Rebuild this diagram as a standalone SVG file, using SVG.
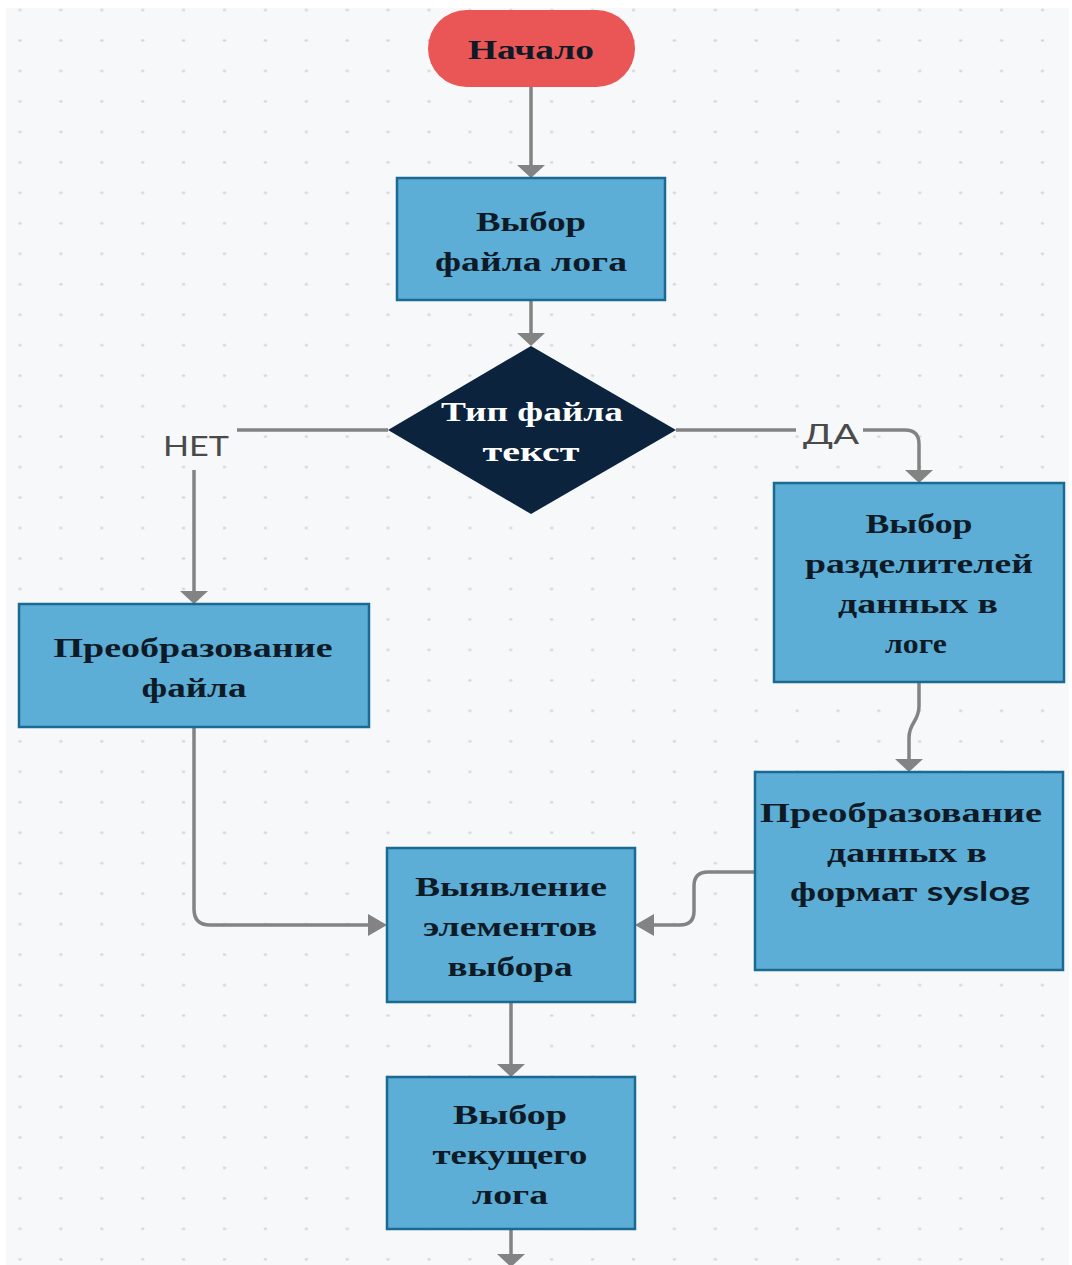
<svg xmlns="http://www.w3.org/2000/svg" width="1072" height="1265" viewBox="0 0 1072 1265">
  <style>
    .step { fill: #5caed6; stroke: #1b6a93; stroke-width: 2.5; }
    .start { fill: #ea5656; }
    .decision { fill: #0b233d; }
    .lbl { font-family: "Liberation Serif", "Times New Roman", serif; font-weight: bold; font-size: 27px; fill: #0e1a26; text-anchor: middle; }
    .lbl-light { fill: #ffffff; }
    .sans { font-family: Lato, "Liberation Sans", sans-serif; font-weight: bold; }
    .branch { font-family: Lato, "Liberation Sans", sans-serif; font-size: 27px; fill: #4a4a4a; text-anchor: middle; }
    .wire { fill: none; stroke: #838383; stroke-width: 3.5; }
  </style>
  <defs>
    <pattern id="grid" patternUnits="userSpaceOnUse" x="-0.45" y="-5.2" width="40.9" height="30.47">
      <ellipse cx="20.45" cy="15.235" rx="1.8" ry="1.3" fill="#d4d7dc"/>
    </pattern>
    <marker id="arrow-v" markerUnits="userSpaceOnUse" viewBox="0 -14 13 28" markerWidth="13" markerHeight="28" refX="0" refY="0" orient="auto">
      <path d="M0,-14 L13,0 L0,14 z" fill="#838383"/>
    </marker>
    <marker id="arrow-h" markerUnits="userSpaceOnUse" viewBox="0 -11 19 22" markerWidth="19" markerHeight="22" refX="0" refY="0" orient="auto">
      <path d="M0,-11 L19,0 L0,11 z" fill="#838383"/>
    </marker>
  </defs>

  <!-- canvas -->
  <rect x="0" y="0" width="1072" height="1265" fill="#ffffff"/>
  <rect x="6" y="8" width="1063" height="1257" fill="#f7f8fa"/>
  <rect x="6" y="8" width="1063" height="1257" fill="url(#grid)"/>

  <!-- connectors -->
  <g id="connectors">
    <path class="wire" d="M531,87 V165" marker-end="url(#arrow-v)"/>
    <path class="wire" d="M531,300 V333" marker-end="url(#arrow-v)"/>
    <path class="wire" d="M388,430 H237"/>
    <path class="wire" d="M194,470 V591" marker-end="url(#arrow-v)"/>
    <path class="wire" d="M676,430 H796"/>
    <path class="wire" d="M863,430 H905 Q919,430 919,444 V470" marker-end="url(#arrow-v)"/>
    <path class="wire" d="M919,682 V706 C919,722 909,722 909,738 V759" marker-end="url(#arrow-v)"/>
    <path class="wire" d="M755,872 H708 Q694,872 694,886 V911 Q694,925 680,925 H654" marker-end="url(#arrow-h)"/>
    <path class="wire" d="M194,727 V909 Q194,925 210,925 H368" marker-end="url(#arrow-h)"/>
    <path class="wire" d="M511,1002 V1064" marker-end="url(#arrow-v)"/>
    <path class="wire" d="M511,1229 V1254" marker-end="url(#arrow-v)"/>
    <text class="branch" x="196" y="456" textLength="66" lengthAdjust="spacingAndGlyphs">НЕТ</text>
    <text class="branch" x="831" y="444" textLength="56" lengthAdjust="spacingAndGlyphs">ДА</text>
  </g>

  <g id="node-start">
    <rect class="start" x="428" y="10" width="207" height="77" rx="38.5"/>
    <text class="lbl" x="531" y="59" textLength="126" lengthAdjust="spacingAndGlyphs">Начало</text>
  </g>

  <g id="node-select-file">
    <rect class="step" x="397" y="178" width="268" height="122"/>
    <text class="lbl" x="531" y="231" textLength="110" lengthAdjust="spacingAndGlyphs">Выбор</text>
    <text class="lbl" x="531" y="271" textLength="192" lengthAdjust="spacingAndGlyphs">файла лога</text>
  </g>

  <g id="node-file-type">
    <polygon class="decision" points="531,346 676,430 531,514 388,430"/>
    <text class="lbl lbl-light" x="532" y="421" textLength="182" lengthAdjust="spacingAndGlyphs">Тип файла</text>
    <text class="lbl lbl-light" x="531" y="461" textLength="97" lengthAdjust="spacingAndGlyphs">текст</text>
  </g>

  <g id="node-convert-file">
    <rect class="step" x="19" y="604" width="350" height="123"/>
    <text class="lbl" x="193" y="657" textLength="279" lengthAdjust="spacingAndGlyphs">Преобразование</text>
    <text class="lbl" x="194" y="697" textLength="105" lengthAdjust="spacingAndGlyphs">файла</text>
  </g>

  <g id="node-separators">
    <rect class="step" x="774" y="483" width="290" height="199"/>
    <text class="lbl" x="919" y="533" textLength="107" lengthAdjust="spacingAndGlyphs">Выбор</text>
    <text class="lbl" x="919" y="573" textLength="228" lengthAdjust="spacingAndGlyphs">разделителей</text>
    <text class="lbl" x="918" y="613" textLength="160" lengthAdjust="spacingAndGlyphs">данных в</text>
    <text class="lbl" x="916" y="653" textLength="62" lengthAdjust="spacingAndGlyphs">логе</text>
  </g>

  <g id="node-syslog">
    <rect class="step" x="755" y="772" width="308" height="198"/>
    <text class="lbl" x="901" y="822" textLength="282" lengthAdjust="spacingAndGlyphs">Преобразование</text>
    <text class="lbl" x="907" y="862" textLength="160" lengthAdjust="spacingAndGlyphs">данных в</text>
    <text class="lbl" x="910" y="901" textLength="240" lengthAdjust="spacingAndGlyphs">формат <tspan class="sans">syslog</tspan></text>
  </g>

  <g id="node-detect">
    <rect class="step" x="387" y="848" width="248" height="154"/>
    <text class="lbl" x="511" y="896" textLength="192" lengthAdjust="spacingAndGlyphs">Выявление</text>
    <text class="lbl" x="510" y="936" textLength="174" lengthAdjust="spacingAndGlyphs">элементов</text>
    <text class="lbl" x="510" y="976" textLength="125" lengthAdjust="spacingAndGlyphs">выбора</text>
  </g>

  <g id="node-current-log">
    <rect class="step" x="387" y="1077" width="248" height="152"/>
    <text class="lbl" x="510" y="1124" textLength="114" lengthAdjust="spacingAndGlyphs">Выбор</text>
    <text class="lbl" x="510" y="1164" textLength="155" lengthAdjust="spacingAndGlyphs">текущего</text>
    <text class="lbl" x="510" y="1204" textLength="76" lengthAdjust="spacingAndGlyphs">лога</text>
  </g>
</svg>
